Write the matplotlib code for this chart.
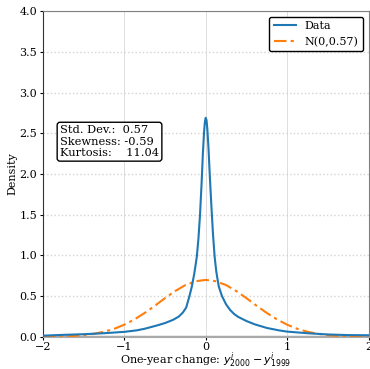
import numpy as np
import matplotlib
matplotlib.use('Agg')
import matplotlib.pyplot as plt

plt.rcParams['font.family'] = 'DejaVu Serif'
plt.rcParams['font.size'] = 8

# kernel density of the one-year change
kde_x = [-2.0, -1.75, -1.5, -1.25, -1.0, -0.85, -0.75, -0.6, -0.5, -0.4, -0.33, -0.28,
         -0.24, -0.2, -0.17, -0.14, -0.11, -0.09, -0.07, -0.05, -0.035, -0.02, -0.01,
         0.0, 0.01, 0.02, 0.035, 0.05, 0.07, 0.09, 0.11, 0.13, 0.16, 0.2, 0.25, 0.3,
         0.35, 0.4, 0.5, 0.6, 0.75, 0.9, 1.0, 1.25, 1.5, 1.75, 2.0]
kde_y = [0.015, 0.025, 0.033, 0.045, 0.062, 0.08, 0.10, 0.14, 0.17, 0.21, 0.25, 0.30,
         0.36, 0.50, 0.62, 0.78, 0.98, 1.20, 1.50, 1.90, 2.25, 2.52, 2.64,
         2.69, 2.66, 2.55, 2.30, 1.98, 1.60, 1.25, 0.98, 0.80, 0.62, 0.50, 0.40, 0.33,
         0.28, 0.245, 0.195, 0.155, 0.11, 0.08, 0.065, 0.045, 0.03, 0.022, 0.02]

# reference normal N(0, 0.57)
norm_x = [-2.0, -1.875, -1.75, -1.625, -1.5, -1.375, -1.25, -1.125, -1.0, -0.875, -0.75,
          -0.625, -0.5, -0.375, -0.25, -0.125, 0.0, 0.125, 0.25, 0.375, 0.5, 0.625,
          0.75, 0.875, 1.0, 1.125, 1.25, 1.375, 1.5, 1.625, 1.75, 1.875, 2.0]
norm_y = [0.0015, 0.0031, 0.0063, 0.012, 0.022, 0.038, 0.063, 0.099, 0.150, 0.215,
          0.294, 0.382, 0.476, 0.563, 0.636, 0.683, 0.700, 0.683, 0.636, 0.563, 0.476,
          0.382, 0.294, 0.215, 0.150, 0.099, 0.063, 0.038, 0.022, 0.012, 0.0063,
          0.0031, 0.0015]

stats_txt = 'Std. Dev.:  0.57\nSkewness: -0.59\nKurtosis:    11.04'

fig = plt.figure(figsize=(3.70, 3.69), dpi=100)
ax = fig.add_axes([0.116, 0.087, 0.880, 0.883])

ax.axhline(0, color='darkgray', linewidth=2.5, zorder=1)
ax.plot(kde_x, kde_y, color='tab:blue', linewidth=1.5, label='Data', zorder=3)
ax.plot(norm_x, norm_y, color='tab:orange', linewidth=1.5, linestyle=(0, (6, 2, 1.5, 2)),
        label='N(0,0.57)', zorder=2)

ax.grid(True, axis='x', color='#dddddd', linestyle='-', linewidth=0.7)
ax.grid(True, axis='y', color='lightgray', linestyle=':', linewidth=1.0)
ax.set_axisbelow(True)

ax.set_xlim(-2, 2)
ax.set_ylim(0, 4)
ax.set_xticks([-2, -1, 0, 1, 2])
ax.set_yticks([0.0, 0.5, 1.0, 1.5, 2.0, 2.5, 3.0, 3.5, 4.0])
ax.tick_params(labelsize=8, pad=1.5, length=2.5)
for s in ['top', 'right']:
    ax.spines[s].set_color('gray')
ax.spines['left'].set_color('#333333')
ax.spines['bottom'].set_color('darkgray')

ax.set_xlabel(r'One-year change: $y^{i}_{2000} - y^{i}_{1999}$', fontsize=8, labelpad=-1.8)
ax.set_ylabel('Density', fontsize=8, labelpad=1.5)

ax.text(-1.79, 2.60, stats_txt, va='top', ha='left', fontsize=8.2,
        bbox=dict(boxstyle='round,pad=0.25', facecolor='white', edgecolor='black'))

leg = ax.legend(loc='upper right', fontsize=8, framealpha=1, edgecolor='black')

fig.savefig('out.png', dpi=100)
